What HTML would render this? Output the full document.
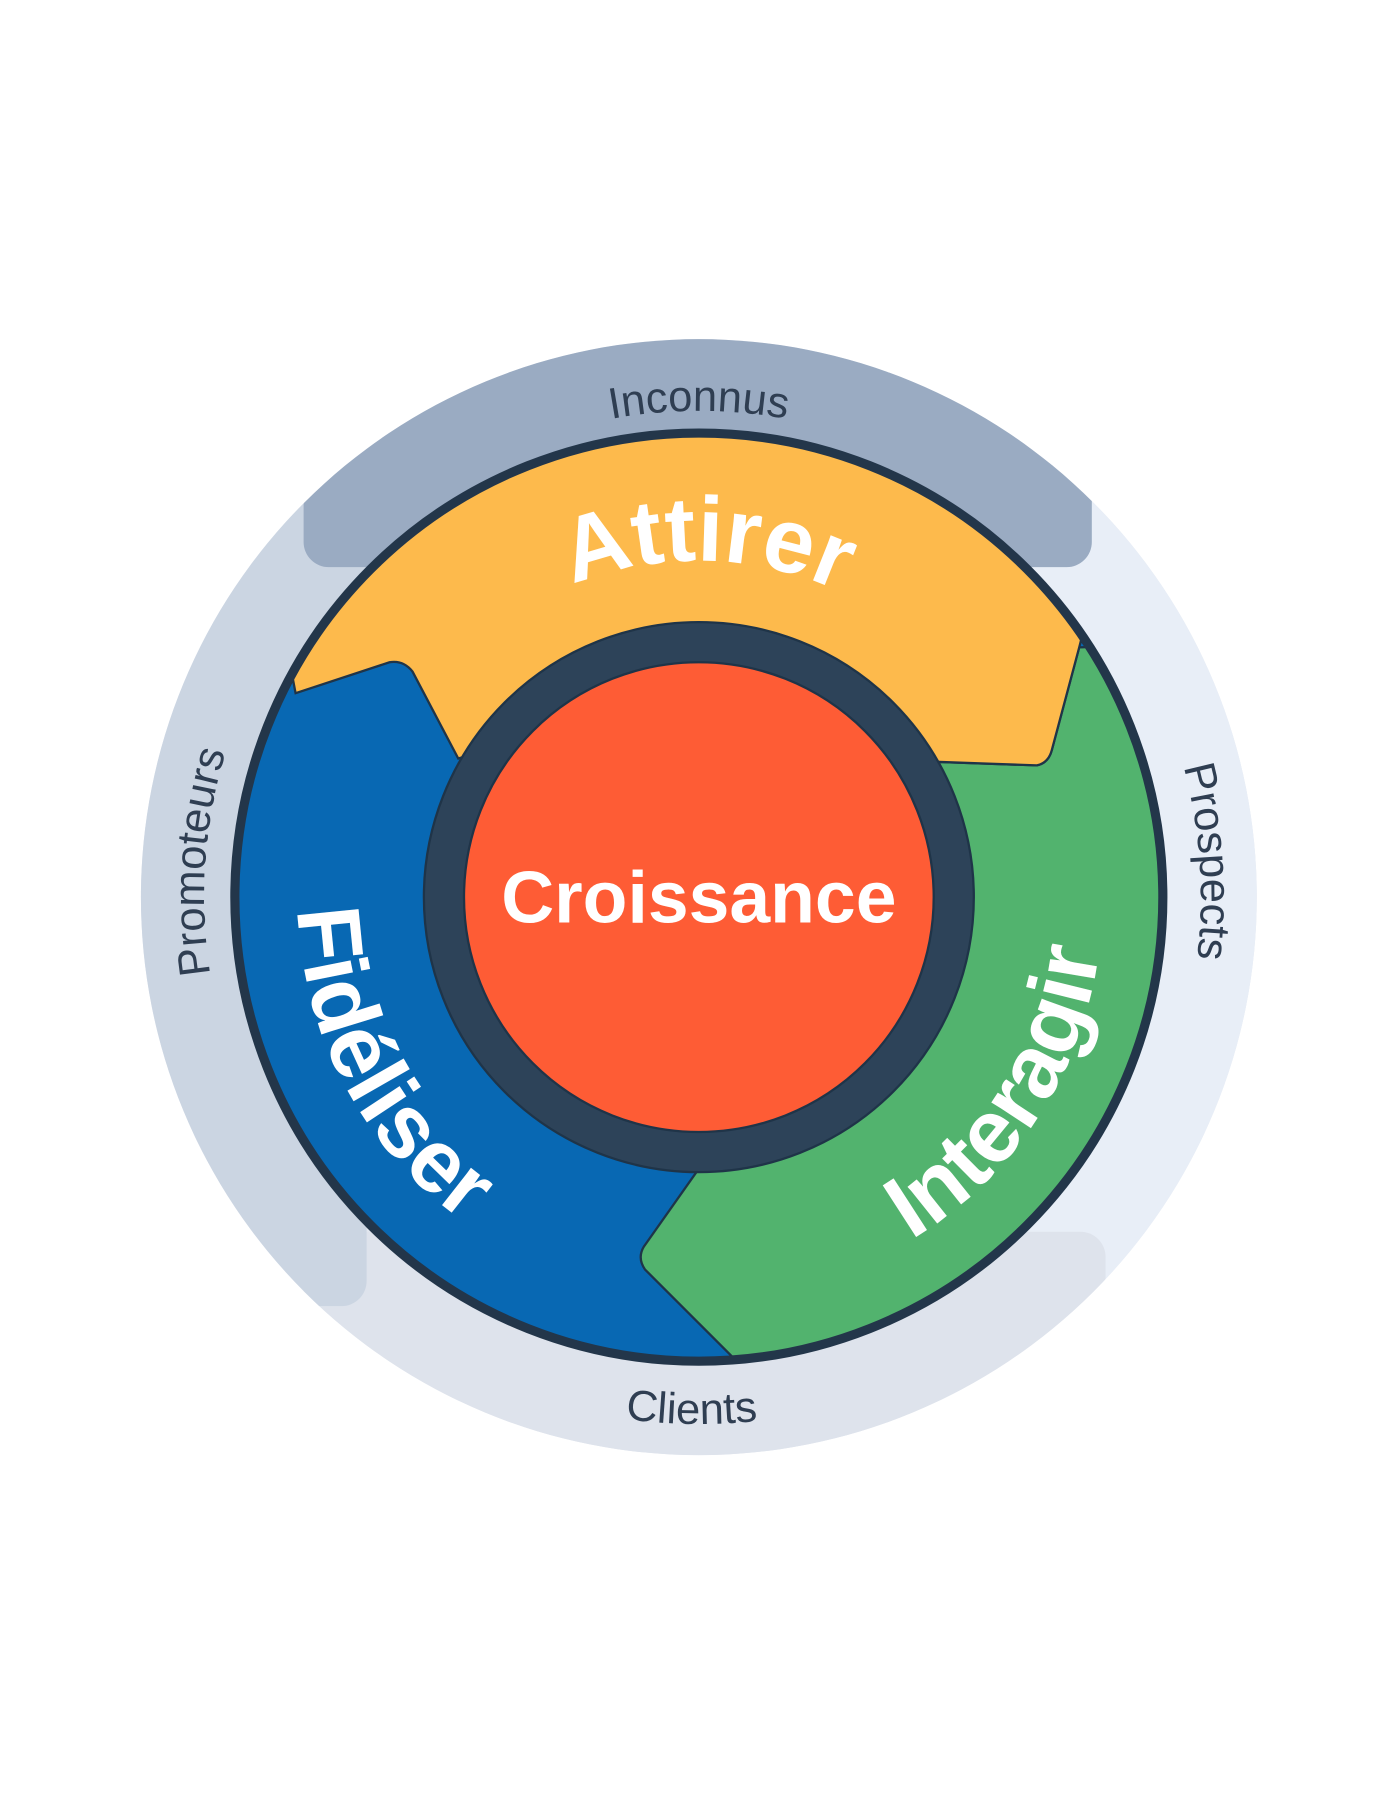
<!DOCTYPE html>
<html><head><meta charset="utf-8"><style>html,body{margin:0;padding:0;background:#fff}svg{display:block}</style></head>
<body>
<svg width="1400" height="1800" viewBox="0 0 1222 1571" preserveAspectRatio="none" xmlns="http://www.w3.org/2000/svg">
<defs>
<clipPath id="outer"><circle cx="610" cy="783" r="487"/></clipPath>
<clipPath id="mid"><circle cx="610" cy="783" r="405"/></clipPath>
<path id="pAtt" d="M 334 682 A 294 294 0 0 1 886 682"/>
<path id="pInc" d="M 242 571 A 425 425 0 0 1 978 571"/>
<path id="pCli" d="M 314 1135 A 460 460 0 0 0 906 1135"/>
<path id="pPro" d="M 222 972 A 432 432 0 0 1 252 541"/>
<path id="pPros" d="M 973 538 A 438 438 0 0 1 1004 975"/>
<path id="pFid" d="M 285 652 A 350 350 0 0 0 537 1125"/>
<path id="pInt" d="M 653 1130 A 345 345 0 0 0 945 680"/>
</defs>
<g clip-path="url(#outer)">
<rect x="0" y="0" width="1222" height="1571" fill="#e2e7ef"/>
<rect x="880" y="430" width="400" height="700" rx="22" fill="#e8eef7"/>
<rect x="265" y="1075" width="700" height="400" rx="22" fill="#dee3ec"/>
<rect x="-50" y="440" width="370" height="700" rx="22" fill="#cbd5e2"/>
<rect x="265" y="250" width="688" height="245" rx="22" fill="#9aabc2"/>
</g>
<g clip-path="url(#mid)">
<rect x="150" y="300" width="920" height="960" fill="#0868b3"/>
<path d="M 820 665 L 905 668 Q 915 666 918 655 L 942 565 L 1100 560 L 1100 1300 L 640 1185 L 563 1108 Q 556 1098 562 1088 L 610 1020 L 700 900 Z" fill="#52b36e" stroke="#1f3448" stroke-width="2"/>
<path d="M 258 605 L 340 578 Q 352 576 360 586 L 400 662 L 610 600 L 820 665 L 905 668 Q 915 666 918 655 L 942 565 L 1010 300 L 200 300 Z" fill="#fdba4c" stroke="#1f3448" stroke-width="2"/>
</g>
<circle cx="610" cy="783" r="405" fill="none" stroke="#23364a" stroke-width="8"/>
<circle cx="610" cy="783" r="240" fill="#2d4359" stroke="#1f3448" stroke-width="2"/>
<circle cx="610" cy="783" r="205" fill="#fe5c35" stroke="#1f3448" stroke-width="2"/>
<g font-family="Liberation Sans, sans-serif" font-weight="bold" fill="#fff">
<text font-size="80"><textPath href="#pAtt" startOffset="51%" text-anchor="middle">Attirer</textPath></text>
<text font-size="78"><textPath href="#pFid" startOffset="50%" text-anchor="middle">Fidéliser</textPath></text>
<text font-size="78"><textPath href="#pInt" startOffset="50%" text-anchor="middle">Interagir</textPath></text>
<text x="610" y="805" font-size="64" text-anchor="middle">Croissance</text>
</g>
<g font-family="Liberation Sans, sans-serif" fill="#2f3e52" font-size="38">
<text><textPath href="#pInc" startOffset="50%" text-anchor="middle">Inconnus</textPath></text>
<text><textPath href="#pCli" startOffset="49%" text-anchor="middle">Clients</textPath></text>
<text><textPath href="#pPro" startOffset="50%" text-anchor="middle">Promoteurs</textPath></text>
<text><textPath href="#pPros" startOffset="50%" text-anchor="middle">Prospects</textPath></text>
</g>
</svg>
</body></html>
